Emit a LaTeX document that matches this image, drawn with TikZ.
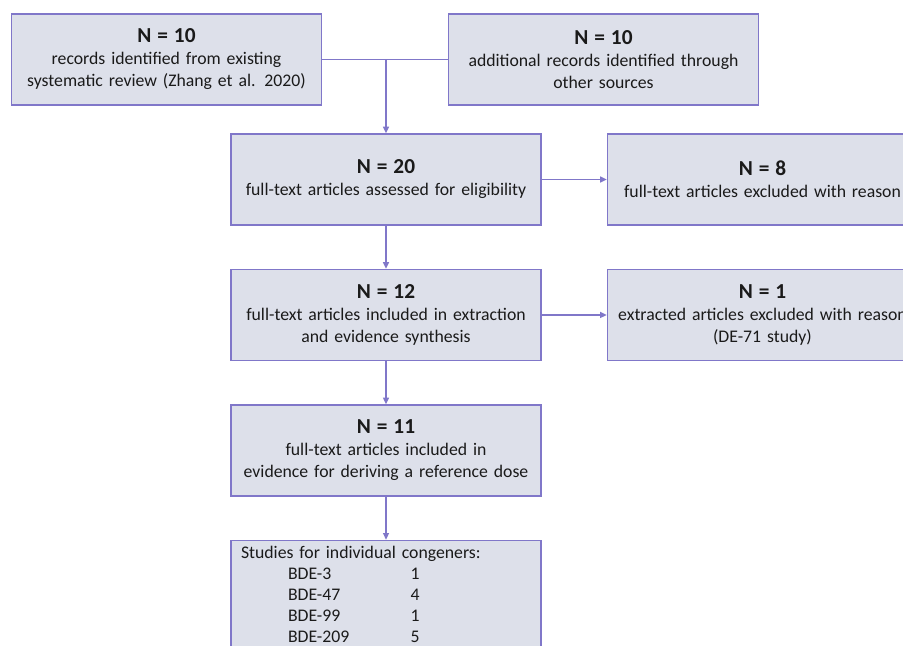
\documentclass[tikz,border=0pt]{standalone}
\usepackage{fontspec}
\setmainfont{Carlito}
\usetikzlibrary{arrows.meta,positioning}
\definecolor{boxfill}{HTML}{DDE0EA}
\definecolor{boxline}{HTML}{8077C9}
\definecolor{boxtext}{HTML}{1A1A1A}
\tikzset{
  every picture/.style={line width=1.1pt},
  every node/.style={font=\fontsize{13.3}{16.5}\selectfont, text=boxtext},
  box/.style={draw=boxline, fill=boxfill, rectangle, minimum width=232.5pt,
    minimum height=68.25pt, text width=225pt, align=center, inner sep=0pt},
  listbox/.style={draw=boxline, fill=boxfill, rectangle, text width=217.5pt,
    align=left, inner xsep=7.5pt, inner ysep=2.5pt,
    font=\fontsize{13.3}{15.75}\selectfont},
  link/.style={draw=boxline, line width=1.1pt},
  flow/.style={link, -{Triangle[length=5pt,width=4.5pt]}}
}
\newcommand{\bignum}[1]{{\fontsize{16}{21}\selectfont\bfseries #1}\\}
\begin{document}
\begin{tikzpicture}[x=0.75pt, y=-0.75pt, node distance=32.25pt and 48.75pt]
  \useasboundingbox (0,0) rectangle (903,646);
  \clip (0,0) rectangle (903,646);

  \node[box] (zhang) at (166.5,59.5) {\bignum{N = 10}records identified from existing\\systematic review (Zhang et al. 2020)};
  \node[box] (other) at (603.5,59.5) {\bignum{N = 10}additional records identified through\\other sources};

  \node[box] (screen) at (386,179.5) {\bignum{N = 20}full-text articles assessed for eligibility};
  \node[box, right=of screen] (excl) {\bignum{N = 8}full-text articles excluded with reason};

  \node[box, below=of screen] (extract) {\bignum{N = 12}full-text articles included in extraction\\and evidence synthesis};
  \node[box, right=of extract] (de71) {\bignum{N = 1}extracted articles excluded with reason\\(DE-71 study)};

  \node[box, below=of extract] (rfd) {\bignum{N = 11}full-text articles included in\\evidence for deriving a reference dose};

  \node[listbox, below=of rfd] (cong) {\def\arraystretch{1}%
    \begin{tabular}{@{\hspace{35.25pt}}p{92pt}@{}l}
      \multicolumn{2}{@{}l}{Studies for individual congeners:}\\
      BDE-3 & 1\\
      BDE-47 & 4\\
      BDE-99 & 1\\
      BDE-209 & 5\\
      &
    \end{tabular}};

  % merge of the two sources
  \coordinate (join) at (screen.north |- zhang.east);
  \draw[link] (zhang.east) -- (other.west);
  \draw[flow] (join) -- (screen.north);

  \draw[flow] (screen) -- (excl);
  \draw[flow] (screen) -- (extract);
  \draw[flow] (extract) -- (de71);
  \draw[flow] (extract) -- (rfd);
  \draw[flow] (rfd) -- (cong);
\end{tikzpicture}
\end{document}
